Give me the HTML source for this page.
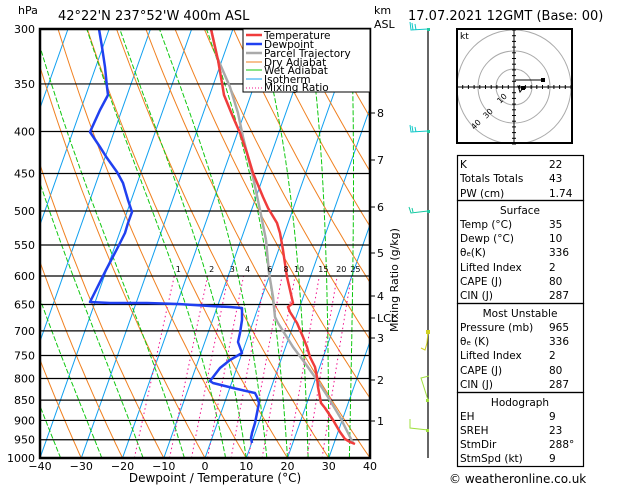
<!DOCTYPE html>
<html><head><meta charset="utf-8"><style>
body{margin:0;background:#fff;width:629px;height:486px;overflow:hidden}
svg{display:block}
text{font-family:"DejaVu Sans","Liberation Sans",sans-serif;fill:#000}
</style></head><body>
<svg id="s" width="629" height="486" viewBox="0 0 629 486" xmlns="http://www.w3.org/2000/svg">
<defs><clipPath id="c"><rect x="40" y="29" width="330" height="429"/></clipPath></defs>
<g id="bg" clip-path="url(#c)"></g>
<g id="pl" fill="none"></g>
<rect x="40" y="29" width="330" height="429" fill="none" stroke="#000" stroke-width="2.5"/>
<!-- legend -->
<rect x="243" y="29" width="127" height="63" fill="#fff" stroke="#000" stroke-width="1"/>
<g font-size="10.5">
<line x1="246" y1="35" x2="262" y2="35" stroke="#f03c3c" stroke-width="2.5"/><text x="264" y="39">Temperature</text>
<line x1="246" y1="44" x2="262" y2="44" stroke="#2040f0" stroke-width="2.5"/><text x="264" y="48">Dewpoint</text>
<line x1="246" y1="53" x2="262" y2="53" stroke="#aaa" stroke-width="2.5"/><text x="264" y="57">Parcel Trajectory</text>
<line x1="246" y1="62" x2="262" y2="62" stroke="#f08020" stroke-width="1"/><text x="264" y="66">Dry Adiabat</text>
<line x1="246" y1="70" x2="262" y2="70" stroke="#10c810" stroke-width="1"/><text x="264" y="74">Wet Adiabat</text>
<line x1="246" y1="79" x2="262" y2="79" stroke="#10a0f0" stroke-width="1"/><text x="264" y="83">Isotherm</text>
<line x1="246" y1="88" x2="262" y2="88" stroke="#f0108c" stroke-width="1" stroke-dasharray="1,2"/><text x="264" y="91">Mixing Ratio</text>
</g>
<text x="18" y="14" font-size="11">hPa</text>
<text x="58" y="20" font-size="13">42°22'N  237°52'W  400m  ASL</text>
<text x="374" y="14" font-size="11">km</text>
<text x="374" y="28" font-size="11">ASL</text>
<text x="408" y="20" font-size="13">17.07.2021  12GMT  (Base: 00)</text>
<g id="lab" font-size="11"></g>
<text x="215" y="482" font-size="12" text-anchor="middle">Dewpoint / Temperature (°C)</text>
<text transform="translate(398,280) rotate(-90)" font-size="11" text-anchor="middle">Mixing Ratio (g/kg)</text>
<!-- km -->
<g font-size="11">
<text x="377" y="117">8</text><text x="377" y="164">7</text><text x="377" y="211">6</text><text x="377" y="257">5</text><text x="377" y="300">4</text><text x="377" y="322">LCL</text><text x="377" y="342">3</text><text x="377" y="384">2</text><text x="377" y="425">1</text>
</g>
<g stroke="#000"><line x1="370" y1="113" x2="375" y2="113"/><line x1="370" y1="160" x2="375" y2="160"/><line x1="370" y1="207" x2="375" y2="207"/><line x1="370" y1="253" x2="375" y2="253"/><line x1="370" y1="296" x2="375" y2="296"/><line x1="370" y1="318" x2="375" y2="318"/><line x1="370" y1="338" x2="375" y2="338"/><line x1="370" y1="380" x2="375" y2="380"/><line x1="370" y1="421" x2="375" y2="421"/></g>
<!-- wind -->
<line x1="428" y1="29" x2="428" y2="458" stroke="#000" stroke-width="1.2"/>
<g fill="none" stroke-width="1">
<path d="M428 29 L411 30 L410 22 M413 30 L412 23 M416 30 L415 24" stroke="#10c8c8"/>
<path d="M428 131 L411 132 L410 125 M413 132 L412 126 M416 132 L415 127" stroke="#10c8c8"/>
<path d="M428 211 L411 213 L409 207 M413 212 L412 208" stroke="#10c8a0"/>
<path d="M428 331 L427 343 L425 350 L421 348" stroke="#d0d020"/>
<path d="M428 400 L421 378 L429 376" stroke="#a0e040"/>
<path d="M428 430 L410 428 L410 419" stroke="#a0e040"/>
</g>
<g fill="#20c8a0"><rect x="427" y="28" width="3" height="3"/><rect x="427" y="130" width="3" height="3"/><rect x="427" y="210" width="3" height="3"/></g>
<g fill="#d0d020"><rect x="426" y="330" width="4" height="4"/></g>
<g fill="#a0e040"><rect x="426" y="399" width="3" height="3"/><rect x="426" y="429" width="3" height="3"/></g>
<!-- hodograph -->
<rect x="457" y="29" width="115" height="114" fill="#fff" stroke="#000" stroke-width="2"/>
<g clip-path="url(#h)"></g>
<clipPath id="h"><rect x="458" y="30" width="113" height="112"/></clipPath>
<g clip-path="url(#h)" fill="none" stroke="#aaa">
<circle cx="514" cy="87" r="18"/><circle cx="514" cy="87" r="36"/><circle cx="514" cy="87" r="57"/>
</g>
<g id="ht" stroke="#000" stroke-width="1"></g>
<text x="460" y="39" font-size="9">kt</text>
<text x="497" y="102" font-size="8" fill="#aaa" transform="rotate(-45 501 99)">10</text>
<text x="483" y="117" font-size="8" fill="#aaa" transform="rotate(-45 487 114)">30</text>
<text x="471" y="128" font-size="8" fill="#aaa" transform="rotate(-45 475 125)">40</text>
<path d="M515 80 L544 80 M518 86 L520 92 L523 88 Z" stroke="#000" fill="none"/>
<rect x="541" y="78" width="4" height="4" fill="#000"/><rect x="521" y="86" width="4" height="4" fill="#000"/>
<!-- tables -->
<g fill="none" stroke="#000" stroke-width="1.2">
<rect x="457.5" y="155.5" width="126" height="45"/>
<rect x="457.5" y="200.5" width="126" height="103"/>
<rect x="457.5" y="303.5" width="126" height="89"/>
<rect x="457.5" y="392.5" width="126" height="74"/>
</g>
<g font-size="10.5">
<text x="460" y="168">K</text><text x="549" y="168">22</text>
<text x="460" y="182">Totals Totals</text><text x="549" y="182">43</text>
<text x="460" y="197">PW (cm)</text><text x="549" y="197">1.74</text>
<text x="520" y="214" text-anchor="middle">Surface</text>
<text x="460" y="228">Temp (°C)</text><text x="549" y="228">35</text>
<text x="460" y="242">Dewp (°C)</text><text x="549" y="242">10</text>
<text x="460" y="256">θ<tspan font-size="7">e</tspan>(K)</text><text x="549" y="256">336</text>
<text x="460" y="271">Lifted Index</text><text x="549" y="271">2</text>
<text x="460" y="285">CAPE (J)</text><text x="549" y="285">80</text>
<text x="460" y="299">CIN (J)</text><text x="549" y="299">287</text>
<text x="520" y="317" text-anchor="middle">Most Unstable</text>
<text x="460" y="331">Pressure (mb)</text><text x="549" y="331">965</text>
<text x="460" y="345">θ<tspan font-size="7">e</tspan> (K)</text><text x="549" y="345">336</text>
<text x="460" y="359">Lifted Index</text><text x="549" y="359">2</text>
<text x="460" y="374">CAPE (J)</text><text x="549" y="374">80</text>
<text x="460" y="388">CIN (J)</text><text x="549" y="388">287</text>
<text x="520" y="406" text-anchor="middle">Hodograph</text>
<text x="460" y="420">EH</text><text x="549" y="420">9</text>
<text x="460" y="434">SREH</text><text x="549" y="434">23</text>
<text x="460" y="448">StmDir</text><text x="549" y="448">288°</text>
<text x="460" y="462">StmSpd (kt)</text><text x="549" y="462">9</text>
</g>
<text x="449" y="483" font-size="12">© weatheronline.co.uk</text>
</svg>
<script>
var NS="http://www.w3.org/2000/svg";
function el(p,t,a){var e=document.createElementNS(NS,t);for(var k in a)e.setAttribute(k,a[k]);p.appendChild(e);return e;}
var L=Math.log(1000/300);
function Y(p){return 29+429*Math.log(p/300)/L;}
function X(T,p){var y=Y(p);return 40+(T+40)*4.125+(458-y)*0.3537;}
var bg=document.getElementById('bg'),pl=document.getElementById('pl'),lab=document.getElementById('lab');
function line(pts,a){var d="";pts.forEach(function(q,i){d+=(i?"L":"M")+q[0].toFixed(1)+" "+q[1].toFixed(1);});a.d=d;a.fill="none";return el(bg,'path',a);}
// isotherms
for(var T=-120;T<=40;T+=10){line([[X(T,1000),Y(1000)],[X(T,300),Y(300)]],{stroke:"#10a0f0","stroke-width":1});}
// dry adiabats
for(var T0=-30;T0<=160;T0+=10){var th=T0+273.15,pts=[];for(var p=1000;p>=300;p-=10){pts.push([X(th*Math.pow(p/1000,0.2857)-273.15,p),Y(p)]);}line(pts,{stroke:"#f08020","stroke-width":1});}
// wet adiabats
function es(T){return 6.112*Math.exp(17.67*T/(T+243.5));}
[-35,-25,-15,-5,5,10,15,20,25,30,35].forEach(function(T0){var T=T0+273.15,pts=[];for(var p=1000;p>=300;p-=2){pts.push([X(T-273.15,p),Y(p)]);var e=es(T-273.15),rs=0.622*e/(p-e);var Lv=2.5e6,Rd=287,cp=1005;var dTdp=(Rd*T+Lv*rs)/(p*(cp+Lv*Lv*rs*0.622/(Rd*T*T)));T-=dTdp*2;}line(pts,{stroke:"#10c810","stroke-width":1,"stroke-dasharray":"5,2"});});
// mixing ratio
[[1,"1"],[2,"2"],[3,"3"],[4,"4"],[6,"6"],[8,"8"],[10,"10"],[15,"15"],[20,"20"],[25,"25"]].forEach(function(m){var pts=[];for(var p=1000;p>=600;p-=10){var e=m[0]*p/(622+m[0]),l=Math.log(e/6.112),T=243.5*l/(17.67-l);pts.push([X(T,p),Y(p)]);}line(pts,{stroke:"#f0108c","stroke-width":1,"stroke-dasharray":"1.5,3"});var t=el(lab,'text',{x:pts[pts.length-1][0]+4,y:272,"font-size":"8","text-anchor":"middle",fill:"#f0108c"});t.textContent=m[1];});
// isobars
for(var p=300;p<=1000;p+=50){var y=Y(p);el(pl,'line',{x1:40,x2:370,y1:y,y2:y,stroke:"#000","stroke-width":1.2});var t=el(lab,'text',{x:35,y:y+4,"text-anchor":"end"});t.textContent=p;}
for(var T=-40;T<=40;T+=10){var t=el(lab,'text',{x:40+(T+40)*4.125,y:470,"text-anchor":"middle"});t.textContent=(T<0?"\u2212"+(-T):T);}
function poly(s,c,w){el(pl,'polyline',{points:s,stroke:c,"stroke-width":w,fill:"none","stroke-linejoin":"round"});}
poly("266,240 269,273 273,297 275,317 278,323 293,347 305,363 317,380 328,397 340,417 350,437 353,443","#aaa",2.5);
poly("211,29 217,57 230,87 238,113 243,137 253,177 260,210 266,240","#aaa",2.5);
poly("211,29 218,60 222,83 224,95 233,117 240,133 247,153 253,173 263,197 268,208 277,223 280,233 283,250 284,257 287,277 290,290 293,303 288,307 290,312 297,323 303,337 307,347 310,357 315,367 317,377 318,387 321,403 325,408 333,420 340,432 345,439 350,442 355,444","#f03c3c",2.5);
poly("99,29 102,47 105,67 107,87 108,95 100,110 90,132 100,147 107,158 117,172 123,183 128,200 132,212 128,223 125,233 118,247 106,270 90,302 110,303 147,303 178,304 210,306 230,307 242,308 242,320 240,333 238,342 242,353 230,360 220,368 210,381 213,383 233,388 255,393 257,397 259,403 257,413 255,423 252,433 251,438 252,443","#2040f0",2.5);
// hodograph ticks
var ht=document.getElementById('ht');el(ht,'line',{x1:458,x2:571,y1:87,y2:87});el(ht,'line',{x1:514,x2:514,y1:30,y2:142});
for(var i=-10;i<=10;i++){if(!i)continue;var d=i*5.7;el(ht,'line',{x1:514+d,x2:514+d,y1:85,y2:89});el(ht,'line',{x1:512,x2:516,y1:87+d,y2:87+d});}
</script>
</body></html>
